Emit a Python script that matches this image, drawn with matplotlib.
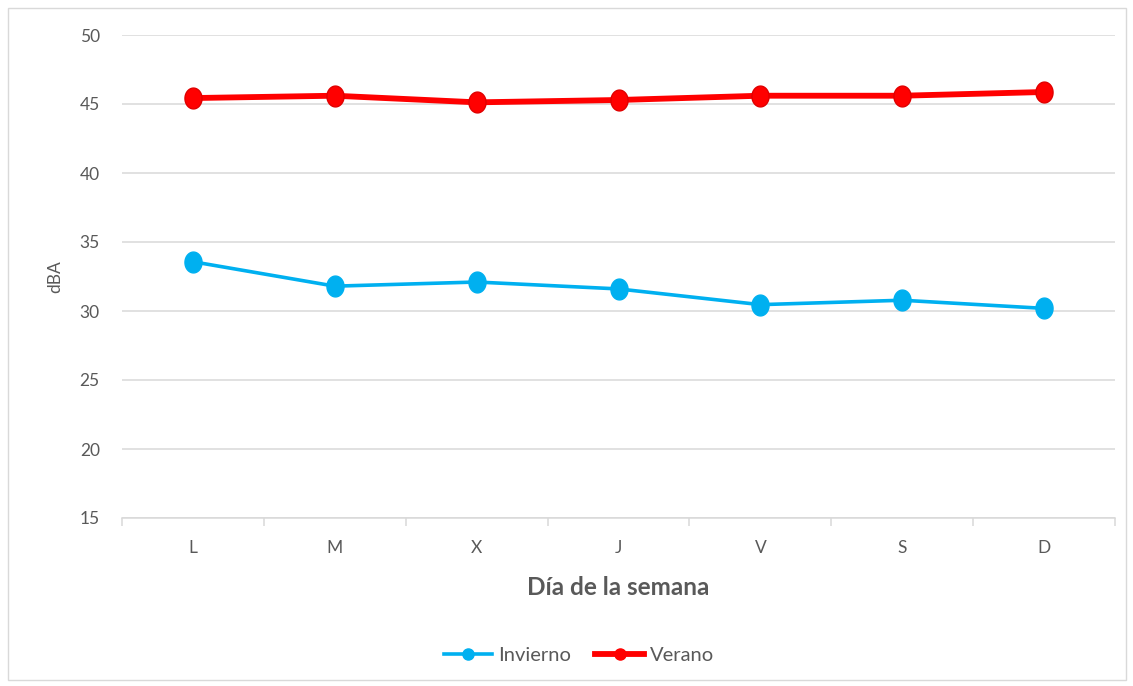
import matplotlib
matplotlib.use("Agg")
import matplotlib.pyplot as plt
import numpy as np
from matplotlib.path import Path
from matplotlib.patches import Rectangle
from matplotlib.lines import Line2D

days = ["L", "M", "X", "J", "V", "S", "D"]
invierno = [33.57, 31.8, 32.1, 31.6, 30.46, 30.78, 30.19]
verano = [45.43, 45.6, 45.12, 45.29, 45.6, 45.6, 45.87]
y_ticks = [15, 20, 25, 30, 35, 40, 45, 50]

C_INV = "#00B0F0"
C_VER = "#FF0000"
GRID = "#D9D9D9"
TXT = "#595959"

plt.rcParams["font.family"] = ["Lato", "DejaVu Sans"]

# slightly tall elliptical marker
t = np.linspace(0, 2 * np.pi, 64)
ell = Path(np.column_stack([0.82 * np.cos(t), np.sin(t)]), closed=True)

fig = plt.figure(figsize=(11.33, 6.86), dpi=100)
fig.patches.append(Rectangle((8 / 1133, 6 / 686), 1118 / 1133, 672 / 686,
                             transform=fig.transFigure, fill=False,
                             edgecolor="#D9D9D9", linewidth=1))

ax = fig.add_axes([122 / 1133, 1 - 518 / 686, (1115 - 122) / 1133, (518 - 35) / 686])
x = np.arange(len(days))

ax.plot(x, invierno, color=C_INV, linewidth=2.6, marker=ell, markersize=15,
        markerfacecolor=C_INV, markeredgecolor=C_INV, zorder=3, label="Invierno")
ax.plot(x, verano, color=C_VER, linewidth=4.2, marker=ell, markersize=15,
        markerfacecolor=C_VER, markeredgecolor="#E00000", zorder=3, label="Verano")

ax.set_xlim(-0.5, len(days) - 0.5)
ax.set_ylim(15, 50)
ax.set_yticks(y_ticks)
ax.set_yticklabels([str(v) for v in y_ticks])
ax.set_xticks(x)
ax.set_xticklabels(days)
ax.set_xticks(np.arange(-0.5, len(days)), minor=True)

ax.grid(axis="y", color=GRID, linewidth=1.1, zorder=0)
for s in ["top", "right", "left"]:
    ax.spines[s].set_visible(False)
ax.spines["bottom"].set_color(GRID)
ax.spines["bottom"].set_linewidth(1.1)

ax.tick_params(axis="y", length=0, pad=16, labelsize=12.5, labelcolor=TXT)
ax.tick_params(axis="x", which="major", length=0, pad=16, labelsize=12.5, labelcolor=TXT)
ax.tick_params(axis="x", which="minor", length=6, width=1.1, color=GRID)

ax.set_xlabel("Día de la semana", fontsize=17.5, fontweight="bold", color=TXT, labelpad=14)
ax.set_ylabel("dBA", fontsize=12.5, color=TXT, labelpad=12)

handles = [
    Line2D([], [], color=C_INV, linewidth=2.6, marker="o", markersize=8, markerfacecolor=C_INV, markeredgecolor=C_INV),
    Line2D([], [], color=C_VER, linewidth=4.2, marker="o", markersize=8, markerfacecolor=C_VER, markeredgecolor=C_VER),
]
leg = fig.legend(handles, ["Invierno", "Verano"], loc="center", bbox_to_anchor=(579 / 1133, 1 - 655 / 686),
                 ncol=2, frameon=False, fontsize=14.5, handlelength=2.4, handletextpad=0.3, columnspacing=1.2)
for txt in leg.get_texts():
    txt.set_color(TXT)

fig.savefig("out.png", dpi=100)
